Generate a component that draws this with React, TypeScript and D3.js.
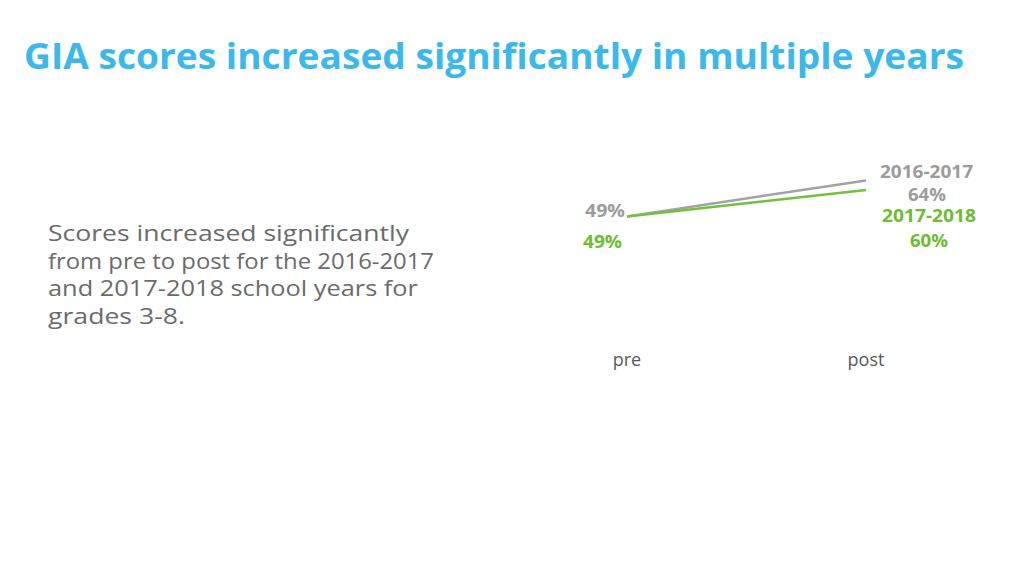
import React from "react";
import * as d3 from "d3";

const categories = ["pre", "post"];
const seriesNames = ["2016-2017", "2017-2018"];
const values2016 = [49, 64];
const values2017 = [49, 60];
const title = "GIA scores increased significantly in multiple years";
const bodyLines = [
  "Scores increased significantly",
  "from pre to post for the 2016-2017",
  "and 2017-2018 school years for",
  "grades 3-8.",
];
const bodyWidths = [361, 386, 370, 137];

const GRAY = "#a3a3a3";
const GREEN = "#72c03c";
const FONT = "'Open Sans', 'DejaVu Sans', sans-serif";

export default function App() {
  const x = d3.scalePoint<string>().domain(categories).range([627, 866]);
  const y = d3.scaleLinear().domain([0, 100]).range([334, 94]);
  const line = d3
    .line<number>()
    .x((_, i) => x(categories[i]) as number)
    .y((d) => y(d));
  const series = [
    { name: seriesNames[0], values: values2016, color: GRAY, textColor: "#9c9c9c" },
    { name: seriesNames[1], values: values2017, color: GREEN, textColor: "#6cbd32" },
  ];
  const lbl = { fontFamily: FONT, fontWeight: 700, fontSize: 18 } as const;
  return (
    <svg
      width={1024}
      height={576}
      style={{ position: "absolute", left: 0, top: 0, background: "#fff" }}
    >
      <text
        x={24}
        y={69}
        fontFamily={FONT}
        fontWeight={700}
        fontSize={35}
        fill="#3db8ea"
        textLength={940}
        lengthAdjust="spacingAndGlyphs"
      >
        {title}
      </text>
      {bodyLines.map((l, i) => (
        <text
          key={i}
          x={48}
          y={241 + i * 27.5}
          fontFamily={FONT}
          fontSize={22}
          fill="#6b6b6b"
          textLength={bodyWidths[i]}
          lengthAdjust="spacingAndGlyphs"
        >
          {l}
        </text>
      ))}
      {series.map((s) => (
        <path
          key={s.name}
          d={line(s.values) || ""}
          fill="none"
          stroke={s.color}
          strokeWidth={2.5}
        />
      ))}
      {/* start labels */}
      <text x={585} y={217} textLength={40} lengthAdjust="spacingAndGlyphs" {...lbl} fill={series[0].textColor}>
        {series[0].values[0]}%
      </text>
      <text x={583} y={248} textLength={39} lengthAdjust="spacingAndGlyphs" {...lbl} fill={series[1].textColor}>
        {series[1].values[0]}%
      </text>
      {/* end labels */}
      <text x={880} y={178} textLength={93} lengthAdjust="spacingAndGlyphs" {...lbl} fill={series[0].textColor}>
        {series[0].name}
      </text>
      <text x={908} y={201} textLength={38} lengthAdjust="spacingAndGlyphs" {...lbl} fill={series[0].textColor}>
        {series[0].values[1]}%
      </text>
      <text x={882} y={222} textLength={94} lengthAdjust="spacingAndGlyphs" {...lbl} fill={series[1].textColor}>
        {series[1].name}
      </text>
      <text x={910} y={247} textLength={38} lengthAdjust="spacingAndGlyphs" {...lbl} fill={series[1].textColor}>
        {series[1].values[1]}%
      </text>
      {categories.map((c) => (
        <text
          key={c}
          x={x(c) as number}
          y={366}
          textAnchor="middle"
          fontFamily={FONT}
          fontSize={18}
          fill="#595959"
        >
          {c}
        </text>
      ))}
    </svg>
  );
}
